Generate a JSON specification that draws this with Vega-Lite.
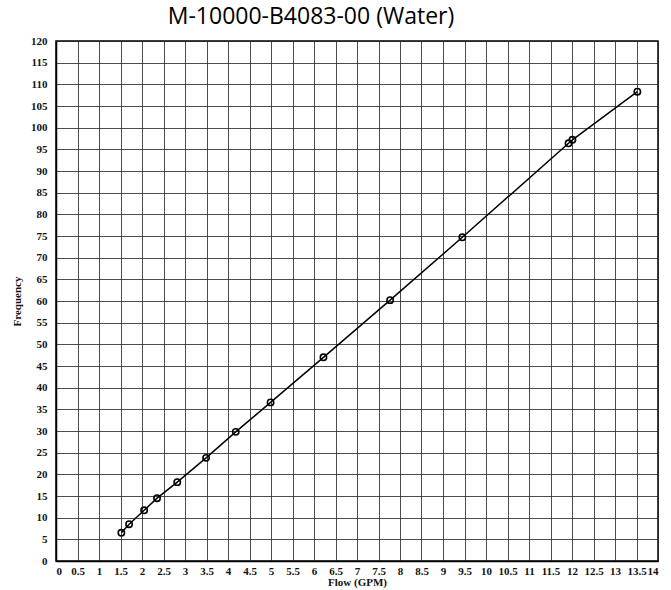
{
  "$schema": "https://vega.github.io/schema/vega-lite/v6.json",
  "autosize": {"type": "none"},
  "padding": {"left": 56, "top": 41, "right": 13, "bottom": 29},
  "width": 602,
  "height": 520,
  "background": "white",
  "title": {
    "text": "M-10000-B4083-00 (Water)",
    "font": "Open Sans",
    "fontSize": 23,
    "fontWeight": "normal",
    "color": "black",
    "anchor": "middle",
    "dx": -46,
    "offset": 6
  },
  "config": {
    "view": {"stroke": "black", "strokeWidth": 1.5},
    "axis": {
      "labelFont": "Liberation Serif",
      "labelFontWeight": "bold",
      "labelFontSize": 11,
      "labelColor": "#111",
      "titleFont": "Liberation Serif",
      "titleFontSize": 11,
      "titleFontWeight": "bold",
      "titleColor": "#111",
      "ticks": false,
      "domainColor": "black",
      "domainWidth": 1.5,
      "gridColor": "#222",
      "gridOpacity": 0.8,
      "gridWidth": 1
    }
  },
  "data": {
    "values": [
      {"flow": 1.52, "freq": 6.5},
      {"flow": 1.70, "freq": 8.5},
      {"flow": 2.05, "freq": 11.7},
      {"flow": 2.35, "freq": 14.5},
      {"flow": 2.82, "freq": 18.2},
      {"flow": 3.49, "freq": 23.8},
      {"flow": 4.18, "freq": 29.8},
      {"flow": 4.99, "freq": 36.6},
      {"flow": 6.22, "freq": 47.0},
      {"flow": 7.77, "freq": 60.2},
      {"flow": 9.45, "freq": 74.7},
      {"flow": 11.92, "freq": 96.4},
      {"flow": 12.01, "freq": 97.2},
      {"flow": 13.52, "freq": 108.3}
    ]
  },
  "encoding": {
    "x": {
      "field": "flow",
      "type": "quantitative",
      "scale": {"domain": [0, 14], "nice": false, "zero": false},
      "axis": {
        "title": "Flow (GPM)",
        "values": [0, 0.5, 1, 1.5, 2, 2.5, 3, 3.5, 4, 4.5, 5, 5.5, 6, 6.5, 7, 7.5, 8, 8.5, 9, 9.5, 10, 10.5, 11, 11.5, 12, 12.5, 13, 13.5, 14],
        "format": ".1~f",
        "labelOverlap": false,
        "labelPadding": 4,
        "titlePadding": 0
      }
    },
    "y": {
      "field": "freq",
      "type": "quantitative",
      "scale": {"domain": [0, 120], "nice": false},
      "axis": {
        "title": "Frequency",
        "values": [0, 5, 10, 15, 20, 25, 30, 35, 40, 45, 50, 55, 60, 65, 70, 75, 80, 85, 90, 95, 100, 105, 110, 115, 120],
        "format": "d",
        "labelOverlap": false,
        "labelPadding": 9,
        "titlePadding": 8
      }
    }
  },
  "layer": [
    {"mark": {"type": "line", "color": "black", "strokeWidth": 1.5}},
    {"mark": {"type": "point", "shape": "circle", "size": 40, "stroke": "black", "strokeWidth": 1.6, "filled": false, "opacity": 1}}
  ]
}
